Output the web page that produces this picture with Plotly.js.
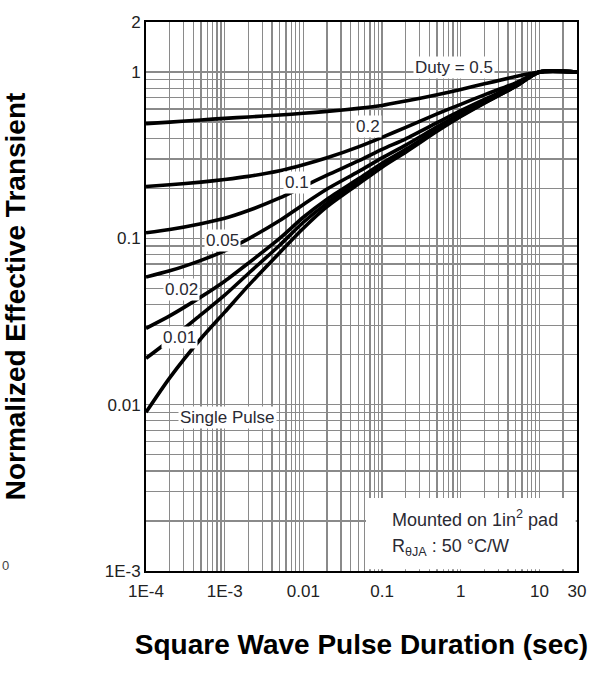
<!DOCTYPE html>
<html>
<head>
<meta charset="utf-8">
<script src="https://cdn.plot.ly/plotly-3.0.1.min.js"></script>
<style>html,body{margin:0;padding:0;background:#fff;}#chart{width:597px;height:688px;}</style>
</head>
<body>
<div id="chart"></div>
<script>
// Pulse duration (sec)
const pulse = [1e-4, 2e-4, 5e-4, 1e-3, 2e-3, 5e-3, 0.01, 0.02, 0.05, 0.1, 0.2, 0.5, 1, 2, 5, 10, 30];
// Normalized effective transient thermal impedance, per duty cycle
const duty05 = [0.49, 0.50, 0.515, 0.527, 0.537, 0.552, 0.565, 0.58, 0.605, 0.63, 0.67, 0.73, 0.785, 0.85, 0.94, 1.0, 1.0];
const duty02 = [0.205, 0.21, 0.218, 0.226, 0.236, 0.255, 0.277, 0.305, 0.355, 0.405, 0.465, 0.56, 0.64, 0.73, 0.86, 1.0, 1.0];
const duty01 = [0.108, 0.113, 0.1225, 0.132, 0.147, 0.175, 0.205, 0.24, 0.292, 0.343, 0.397, 0.496, 0.586, 0.685, 0.838, 1.0, 1.0];
const duty005 = [0.0586, 0.0638, 0.0738, 0.0842, 0.0994, 0.128, 0.16, 0.198, 0.252, 0.305, 0.364, 0.468, 0.563, 0.668, 0.829, 1.0, 1.0];
const duty002 = [0.0288, 0.0342, 0.0445, 0.0553, 0.071, 0.1, 0.134, 0.172, 0.228, 0.283, 0.343, 0.451, 0.549, 0.657, 0.824, 1.0, 1.0];
const duty001 = [0.019, 0.0244, 0.0348, 0.0456, 0.0615, 0.091, 0.125, 0.163, 0.22, 0.275, 0.337, 0.446, 0.545, 0.654, 0.822, 1.0, 1.0];
const singlePulse = [0.009, 0.0145, 0.025, 0.036, 0.052, 0.082, 0.115, 0.155, 0.212, 0.268, 0.33, 0.44, 0.54, 0.65, 0.82, 1.0, 1.0];

const seriesNames = ['Duty = 0.5', '0.2', '0.1', '0.05', '0.02', '0.01', 'Single Pulse'];
const seriesValues = [duty05, duty02, duty01, duty005, duty002, duty001, singlePulse];

// Axis tick labels
const xTickVals = [1e-4, 1e-3, 0.01, 0.1, 1, 10, 30];
const xTickText = ['1E-4', '1E-3', '0.01', '0.1', '1', '10', '30'];
const yTickVals = [0.001, 0.01, 0.1, 1, 2];
const yTickText = ['1E-3', '0.01', '0.1', '1', '2'];

// Curve label positions [pulse, value]
const labelPos = [[0.82, 1.07], [0.066, 0.468], [0.0084, 0.218], [0.00095, 0.0977], [0.000286, 0.0496], [0.00027, 0.0252], [0.0011, 0.00832]];

// log grid values
function logGrid(lo, hi) {
  const out = [];
  for (let e = lo; e < hi; e++) {
    for (let m = 1; m <= 9; m++) out.push(+(m * Math.pow(10, e)).toPrecision(3));
  }
  return out;
}
const xGrid = logGrid(-4, 2).filter(v => v > 1e-4 && v < 30);
const yGrid = logGrid(-3, 0).filter(v => v > 1e-3 && v < 1);

const traces = seriesValues.map((vals, i) => ({
  x: pulse, y: vals, name: seriesNames[i], type: 'scatter', mode: 'lines',
  line: {color: '#000', width: 3.6, shape: 'spline', smoothing: 0.7},
  hoverinfo: 'skip', showlegend: false
}));

const gridColor = '#8a8a8a';
const fontFam = 'Liberation Sans, Arial, sans-serif';
const textColor = '#2a2a33';

const annotations = labelPos.map((p, i) => ({
  x: Math.log10(p[0]), y: Math.log10(p[1]), xref: 'x', yref: 'y',
  text: seriesNames[i], showarrow: false, bgcolor: '#fff', borderpad: 1,
  font: {family: fontFam, size: 17, color: textColor}
}));
annotations.push({
  x: 0.566, y: 0.0965, xref: 'paper', yref: 'paper', xanchor: 'left', yanchor: 'middle',
  text: 'Mounted on 1in<sup>2</sup> pad', showarrow: false,
  font: {family: fontFam, size: 18, color: textColor}
});
annotations.push({
  x: 0.566, y: 0.0437, xref: 'paper', yref: 'paper', xanchor: 'left', yanchor: 'middle',
  text: 'R<sub>θJA</sub> : 50 °C/W', showarrow: false,
  font: {family: fontFam, size: 18, color: textColor}
});
annotations.push({
  x: -0.3387, y: 0.01, xref: 'paper', yref: 'paper', xanchor: 'left', yanchor: 'middle',
  text: '0', showarrow: false, font: {family: fontFam, size: 13, color: '#444'}
});

const layout = {
  width: 597, height: 688,
  margin: {l: 146, r: 20, t: 22, b: 117},
  paper_bgcolor: '#fff', plot_bgcolor: '#fff',
  showlegend: false,
  font: {family: fontFam, color: '#222'},
  xaxis: {
    type: 'log', range: [-4, Math.log10(30)], autorange: false,
    tickmode: 'array', tickvals: xTickVals, ticktext: xTickText,
    tickfont: {size: 17, color: '#222'}, ticks: '', ticklabelstandoff: 4,
    showgrid: true, gridcolor: gridColor, gridwidth: 1.3,
    minor: {tickmode: 'array', tickvals: xGrid, showgrid: true, gridcolor: gridColor, gridwidth: 1.3, ticks: ''},
    showline: true, linecolor: '#000', linewidth: 2, mirror: true,
    zeroline: false, automargin: false,
    title: {text: 'Square Wave Pulse Duration (sec)', font: {family: fontFam, size: 28, color: '#000', weight: 'bold'}, standoff: 34}
  },
  yaxis: {
    type: 'log', range: [-3, Math.log10(2)], autorange: false,
    tickmode: 'array', tickvals: yTickVals, ticktext: yTickText,
    tickfont: {size: 17, color: '#222'}, ticks: '',
    showgrid: true, gridcolor: gridColor, gridwidth: 1.3,
    minor: {tickmode: 'array', tickvals: yGrid, showgrid: true, gridcolor: gridColor, gridwidth: 1.3, ticks: ''},
    showline: true, linecolor: '#000', linewidth: 2, mirror: true,
    zeroline: false, automargin: false,
    title: {text: 'Normalized Effective Transient', font: {family: fontFam, size: 28, color: '#000', weight: 'bold'}, standoff: 71}
  },
  shapes: [{
    type: 'rect', xref: 'paper', yref: 'paper', x0: 0.5104, x1: 0.997, y0: 0.003, y1: 0.133,
    fillcolor: '#fff', line: {width: 0}, layer: 'above'
  }],
  annotations: annotations
};

Plotly.newPlot('chart', traces, layout, {displayModeBar: false, staticPlot: true});
</script>
</body>
</html>
